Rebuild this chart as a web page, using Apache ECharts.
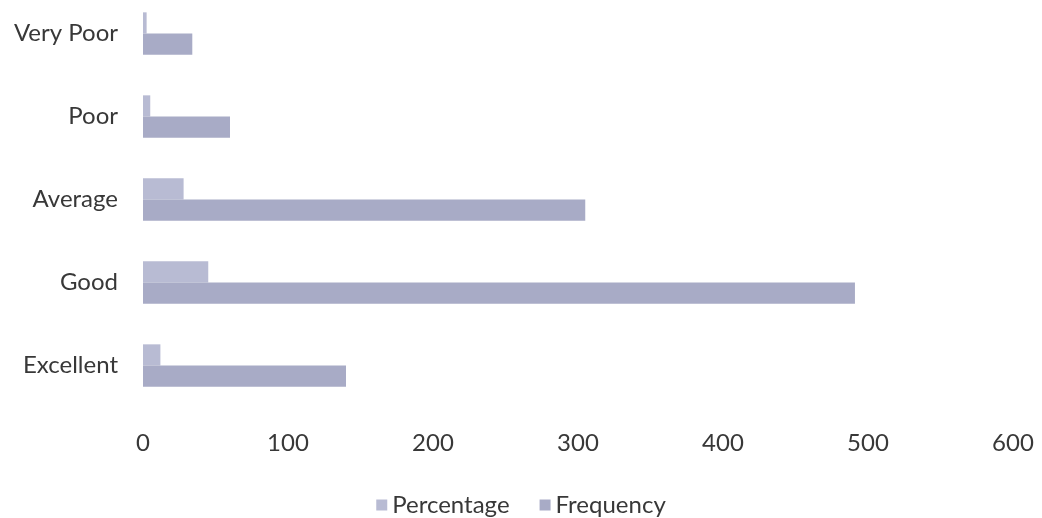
<!DOCTYPE html>
<html>
<head>
<meta charset="utf-8">
<script src="https://cdn.jsdelivr.net/npm/echarts@6/dist/echarts.min.js"></script>
<style>html,body{margin:0;padding:0;background:#fff;overflow:hidden;}#c{width:1042px;height:526px;margin-top:-8px;}</style>
</head>
<body>
<div id="c"></div>
<script>
var categories = ['Excellent', 'Good', 'Average', 'Poor', 'Very Poor'];
var percentage = [12, 45, 28, 5, 2.5];
var frequency = [140, 491, 305, 60, 34];
var xTicks = [0, 100, 200, 300, 400, 500, 600];

var chart = echarts.init(document.getElementById('c'));
var font = 'Lato';
chart.setOption({
  animation: false,
  backgroundColor: '#ffffff',
  textStyle: { fontFamily: font },
  grid: { left: 143, right: 29, top: 0, bottom: 111, containLabel: false },
  legend: {
    data: ['Percentage', 'Frequency'],
    bottom: -4,
    left: 'center',
    itemWidth: 11,
    itemHeight: 11,
    itemGap: 30,
    icon: 'rect',
    textStyle: { fontFamily: font, fontSize: 24, color: '#383838' }
  },
  xAxis: {
    type: 'value',
    min: xTicks[0],
    max: xTicks[xTicks.length - 1],
    interval: 100,
    axisLine: { show: false },
    axisTick: { show: false },
    splitLine: { show: false },
    axisLabel: { fontFamily: font, fontSize: 24, color: '#383838', margin: 24 }
  },
  yAxis: {
    type: 'category',
    data: categories,
    axisLine: { show: false },
    axisTick: { show: false },
    splitLine: { show: false },
    axisLabel: { fontFamily: font, fontSize: 24, color: '#383838', margin: 25 }
  },
  series: [
    {
      name: 'Percentage',
      type: 'bar',
      data: percentage,
      barGap: '0%',
      barCategoryGap: '49%',
      itemStyle: { color: '#b8bbd3' }
    },
    {
      name: 'Frequency',
      type: 'bar',
      data: frequency,
      barGap: '0%',
      barCategoryGap: '49%',
      itemStyle: { color: '#a8abc6' }
    }
  ]
});
</script>
</body>
</html>
